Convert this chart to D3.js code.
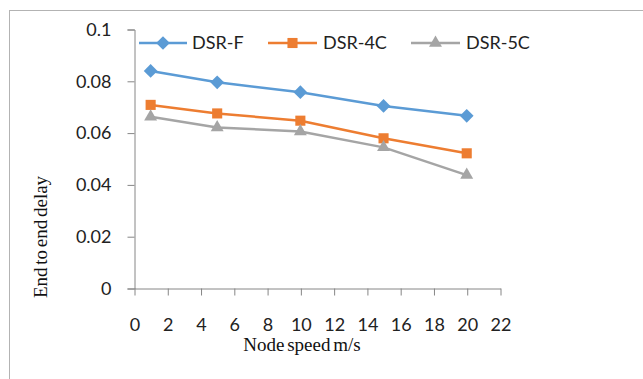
<!DOCTYPE html>
<html>
<head>
<meta charset="utf-8">
<script src="https://cdn.jsdelivr.net/npm/d3@7"></script>
<style>
  body { margin: 0; background: #fff; }
  svg { display: block; }
</style>
</head>
<body>
<div id="chart"></div>
<script>
// node speed (m/s) and end-to-end delay per protocol
const speeds = [1, 5, 10, 15, 20];
const dsrF  = [0.0838, 0.0794, 0.0756, 0.0703, 0.0665];
const dsr4C = [0.0707, 0.0674, 0.0646, 0.0578, 0.0520];
const dsr5C = [0.0661, 0.0620, 0.0604, 0.0543, 0.0436];
const xTicks = [0, 2, 4, 6, 8, 10, 12, 14, 16, 18, 20, 22];
const yTicks = [0, 0.02, 0.04, 0.06, 0.08, 0.1];

const series = [
  { name: "DSR-F",  values: dsrF,  color: "#5B9BD5", symbol: d3.symbolDiamond2, size: 120 },
  { name: "DSR-4C", values: dsr4C, color: "#ED7D31", symbol: d3.symbolSquare2, size: 130 },
  { name: "DSR-5C", values: dsr5C, color: "#A5A5A5", symbol: d3.symbolTriangle2, size: 120 }
];

const width = 643, height = 379;
const svg = d3.select("#chart").append("svg")
  .attr("width", width)
  .attr("height", height);

// outer frame (runs off the right and bottom edges)
svg.append("rect")
  .attr("x", 9.5).attr("y", 10.5)
  .attr("width", 700).attr("height", 400)
  .attr("fill", "none")
  .attr("stroke", "#b3b3b3");

const x = d3.scaleLinear().domain([0, 22]).range([134, 500]);
const y = d3.scaleLinear().domain([0, 0.1]).range([288, 29]);

const font = "Lato, 'Open Sans', sans-serif";
const serif = "'Liberation Serif', 'DejaVu Serif', serif";
const axisColor = "#868686";

// y axis
const yAxis = svg.append("g")
  .attr("transform", "translate(" + (x(0) + 0.5) + ",0.5)")
  .call(d3.axisLeft(y).tickValues(yTicks).tickSize(7).tickPadding(16)
    .tickFormat(d => d === 0 ? "0" : String(+d.toFixed(2))));
yAxis.select(".domain").attr("stroke", axisColor);
yAxis.selectAll(".tick line").attr("stroke", axisColor);
yAxis.selectAll(".tick text")
  .attr("fill", "#222").style("font-family", font).style("font-size", "18px");

// x axis
const xAxis = svg.append("g")
  .attr("transform", "translate(0.5," + (y(0) + 0.5) + ")")
  .call(d3.axisBottom(x).tickValues(xTicks).tickSize(7).tickSizeOuter(0).tickPadding(23));
xAxis.select(".domain").attr("stroke", axisColor);
xAxis.selectAll(".tick line").attr("stroke", axisColor);
xAxis.selectAll(".tick text")
  .attr("fill", "#222").style("font-family", font).style("font-size", "18px");

// axis titles
svg.append("text")
  .attr("x", 302).attr("y", 351)
  .attr("text-anchor", "middle")
  .style("font-family", serif)
  .style("font-size", "19px")
  .style("word-spacing", "-2px")
  .attr("fill", "#111")
  .text("Node speed m/s");

svg.append("text")
  .attr("transform", "translate(47,237) rotate(-90)")
  .attr("text-anchor", "middle")
  .style("font-family", serif)
  .style("font-size", "19px")
  .style("word-spacing", "-2px")
  .attr("fill", "#111")
  .text("End to end delay");

// lines and markers
const line = d3.line()
  .x((d, i) => x(speeds[i]))
  .y(d => y(d));

series.forEach(s => {
  svg.append("path")
    .datum(s.values)
    .attr("fill", "none")
    .attr("stroke", s.color)
    .attr("stroke-width", 2.5)
    .attr("stroke-linejoin", "round")
    .attr("d", line);

  svg.selectAll(null)
    .data(s.values)
    .enter().append("path")
    .attr("transform", (d, i) => "translate(" + x(speeds[i]) + "," + y(d) + ")")
    .attr("d", d3.symbol().type(s.symbol).size(s.size))
    .attr("fill", s.color);
});

// legend
const legendItems = [
  { x0: 139, x1: 187, tx: 192 },
  { x0: 268, x1: 317, tx: 323 },
  { x0: 411, x1: 460, tx: 466 }
];
const legendY = 43;
series.forEach((s, i) => {
  const li = legendItems[i];
  const g = svg.append("g");
  g.append("line")
    .attr("x1", li.x0).attr("x2", li.x1)
    .attr("y1", legendY).attr("y2", legendY)
    .attr("stroke", s.color).attr("stroke-width", 2.5);
  g.append("path")
    .attr("transform", "translate(" + (li.x0 + li.x1) / 2 + "," + legendY + ")")
    .attr("d", d3.symbol().type(s.symbol).size(s.size))
    .attr("fill", s.color);
  g.append("text")
    .attr("x", li.tx).attr("y", legendY + 6)
    .style("font-family", font)
    .style("font-size", "18px")
    .attr("fill", "#222")
    .text(s.name);
});
</script>
</body>
</html>
